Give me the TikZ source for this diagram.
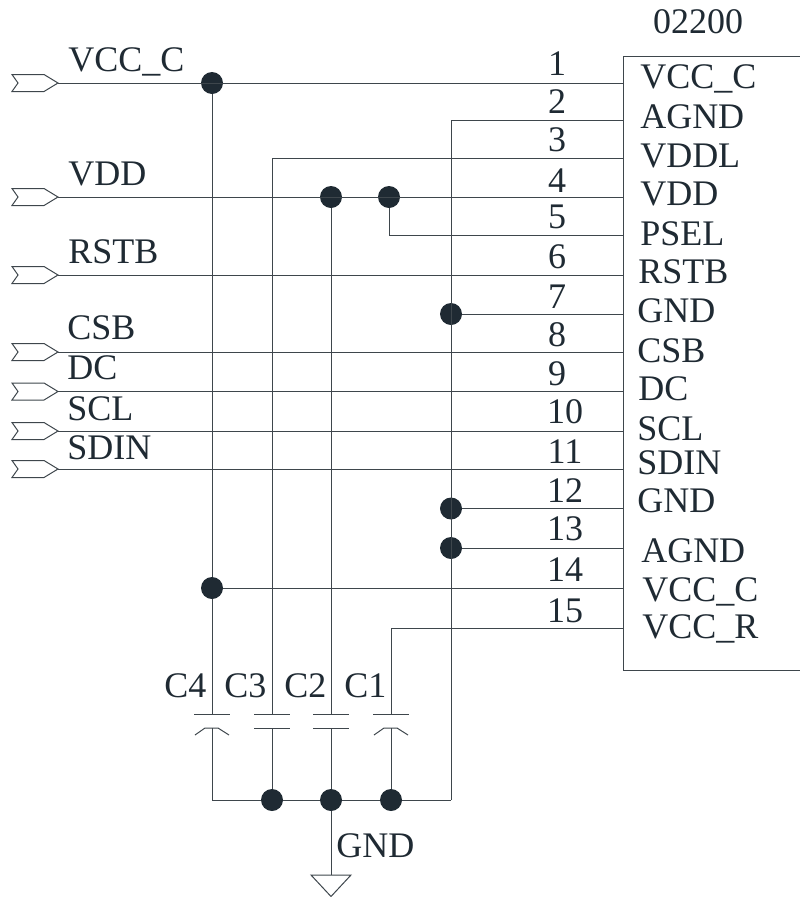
\documentclass[tikz,border=0pt]{standalone}
\usepackage{fontspec}
\setmainfont{Liberation Serif}
\definecolor{inkc}{HTML}{1F2A33}
\definecolor{wirec}{HTML}{3E464C}
\tikzset{
  wire/.style={draw=wirec,line width=0.75pt},
  lab/.style={anchor=base west,inner sep=0pt,text=inkc,font=\fontsize{27}{27}\selectfont},
  num/.style={anchor=base,inner sep=0pt,text=inkc,font=\fontsize{27}{27}\selectfont},
  dot/.style={circle,fill=inkc,inner sep=0pt,minimum size=16.5pt},
}
\newcommand{\portsym}[2]{%
  \coordinate (#1) at (58,#2);
  \draw[wire] (#1) -- ++(-14,-8.5) -- ++(-32,0) -- ++(6,8.5) -- ++(-6,8.5) -- ++(32,0) -- cycle;}
\begin{document}
\begin{tikzpicture}[x=0.75pt,y=-0.75pt]
  \useasboundingbox (0,0) rectangle (800,897);
  % chip
  \draw[wire] (800,56) -- (623,56) -- (623,670) -- (800,670);
  \node[num] (chipname) at (698,33) {02200};
  \coordinate (pin1)  at (623, 83);
  \coordinate (pin2)  at (623,120);
  \coordinate (pin3)  at (623,158);
  \coordinate (pin4)  at (623,197);
  \coordinate (pin5)  at (623,235);
  \coordinate (pin6)  at (623,275);
  \coordinate (pin7)  at (623,314);
  \coordinate (pin8)  at (623,352);
  \coordinate (pin9)  at (623,391.5);
  \coordinate (pin10) at (623,431);
  \coordinate (pin11) at (623,469);
  \coordinate (pin12) at (623,508.5);
  \coordinate (pin13) at (623,548);
  \coordinate (pin14) at (623,588);
  \coordinate (pin15) at (623,628);
  \node[lab] (pname1)  at (640, 88) {VCC\_C};
  \node[lab] (pname2)  at (640,128) {AGND};
  \node[lab] (pname3)  at (640,167) {VDDL};
  \node[lab] (pname4)  at (640,205) {VDD};
  \node[lab] (pname5)  at (640,245) {PSEL};
  \node[lab] (pname6)  at (638,283) {RSTB};
  \node[lab] (pname7)  at (637,322) {GND};
  \node[lab] (pname8)  at (637,362) {CSB};
  \node[lab] (pname9)  at (638,400) {DC};
  \node[lab] (pname10) at (637,440) {SCL};
  \node[lab] (pname11) at (637,474) {SDIN};
  \node[lab] (pname12) at (637,512) {GND};
  \node[lab] (pname13) at (641,562) {AGND};
  \node[lab] (pname14) at (642,601) {VCC\_C};
  \node[lab] (pname15) at (642,638) {VCC\_R};
  \node[num] (pnum1)  at (557, 75) {1};
  \node[num] (pnum2)  at (557,113) {2};
  \node[num] (pnum3)  at (557,151) {3};
  \node[num] (pnum4)  at (557,192) {4};
  \node[num] (pnum5)  at (557,228) {5};
  \node[num] (pnum6)  at (557,268) {6};
  \node[num] (pnum7)  at (557,308) {7};
  \node[num] (pnum8)  at (557,346) {8};
  \node[num] (pnum9)  at (557,385) {9};
  \node[num] (pnum10) at (565,423) {10};
  \node[num] (pnum11) at (565,463) {11};
  \node[num] (pnum12) at (565,502) {12};
  \node[num] (pnum13) at (565,540) {13};
  \node[num] (pnum14) at (565,581) {14};
  \node[num] (pnum15) at (565,622) {15};
  % input ports
  \portsym{pvcc}{83}
  \portsym{pvdd}{197}
  \portsym{prstb}{275}
  \portsym{pcsb}{352}
  \portsym{pdc}{391.5}
  \portsym{pscl}{431}
  \portsym{psdin}{469}
  \node[lab] (lvcc)  at (68, 71) {VCC\_C};
  \node[lab] (lvdd)  at (68,185) {VDD};
  \node[lab] (lrstb) at (68,263) {RSTB};
  \node[lab] (lcsb)  at (67,339) {CSB};
  \node[lab] (ldc)   at (67,379) {DC};
  \node[lab] (lscl)  at (67,420) {SCL};
  \node[lab] (lsdin) at (67,459) {SDIN};
  % junctions
  \node[dot] (jvcc)  at (212, 83) {};
  \node[dot] (jvdd)  at (331,197) {};
  \node[dot] (jpsel) at (389,197) {};
  \node[dot] (jgnd7) at (451,314) {};
  \node[dot] (jgnd12) at (451,508.5) {};
  \node[dot] (jgnd13) at (451,548) {};
  \node[dot] (jvcc14) at (212,588) {};
  \node[dot] (jc3)   at (272,800) {};
  \node[dot] (jc2)   at (331,800) {};
  \node[dot] (jc1)   at (391,800) {};
  \coordinate (busr) at (451,800);
  % capacitors
  \coordinate (c4t) at (212,714);
  \coordinate (c3t) at (272,714);
  \coordinate (c2t) at (331,714);
  \coordinate (c1t) at (391,714);
  \coordinate (c4b) at (212,728);
  \coordinate (c3b) at (272,728);
  \coordinate (c2b) at (331,728);
  \coordinate (c1b) at (391,728);
  \draw[wire] (c4t) +(-18,0) -- +(18,0);
  \draw[wire] (c3t) +(-18,0) -- +(18,0);
  \draw[wire] (c2t) +(-18,0) -- +(18,0);
  \draw[wire] (c1t) +(-18,0) -- +(18,0);
  \draw[wire] (c4b) +(-17,7) -- +(-7,0) -- +(6,0) -- +(17,7);
  \draw[wire] (c3b) +(-18,0) -- +(18,0);
  \draw[wire] (c2b) +(-18,0) -- +(18,0);
  \draw[wire] (c1b) +(-17,7) -- +(-7,0) -- +(6,0) -- +(17,7);
  \node[lab] (lc4) at (164,697) {C4};
  \node[lab] (lc3) at (224,697) {C3};
  \node[lab] (lc2) at (284,697) {C2};
  \node[lab] (lc1) at (344,697) {C1};
  % wires
  \draw[wire] (pvcc) -- (pin1);
  \draw[wire] (pvdd) -- (pin4);
  \draw[wire] (prstb) -- (pin6);
  \draw[wire] (pcsb) -- (pin8);
  \draw[wire] (pdc) -- (pin9);
  \draw[wire] (pscl) -- (pin10);
  \draw[wire] (psdin) -- (pin11);
  \draw[wire] (jvcc) -- (jvcc14);
  \draw[wire] (jvcc14) -- (pin14);
  \draw[wire] (jvcc14) -- (c4t);
  \draw[wire] (pin3) -| (c3t);
  \draw[wire] (jvdd) -- (c2t);
  \draw[wire] (pin15) -| (c1t);
  \draw[wire] (jpsel) |- (pin5);
  \draw[wire] (pin2) -| (busr);
  \draw[wire] (jgnd7) -- (pin7);
  \draw[wire] (jgnd12) -- (pin12);
  \draw[wire] (jgnd13) -- (pin13);
  \draw[wire] (c4b) |- (jc3);
  \draw[wire] (jc3) -- (jc2);
  \draw[wire] (jc2) -- (jc1);
  \draw[wire] (jc1) -- (busr);
  \draw[wire] (c3b) -- (jc3);
  \draw[wire] (c2b) -- (jc2);
  \draw[wire] (c1b) -- (jc1);
  % ground
  \coordinate (gndtop) at (331,875);
  \coordinate (gndtip) at (331,896.5);
  \draw[wire] (jc2) -- (gndtop);
  \draw[wire] (gndtop) -- ++(-20,0) -- (gndtip) -- (351,875) -- (gndtop);
  \node[lab] (lgnd) at (336,857) {GND};
\end{tikzpicture}
\end{document}
